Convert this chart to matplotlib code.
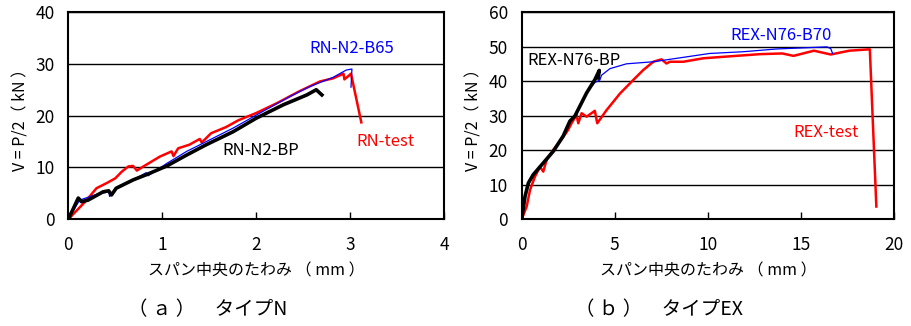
import matplotlib
matplotlib.use("Agg")
import matplotlib.pyplot as plt

plt.rcParams['font.family'] = ['Noto Sans CJK JP', 'DejaVu Sans']

# ---- (a) Type N ----
rn_test_x = [0, 0.195, 0.30, 0.41, 0.50, 0.57, 0.64, 0.69, 0.73, 0.80, 0.975, 1.10, 1.12, 1.17, 1.29, 1.40, 1.42, 1.52, 1.68, 1.81, 2.0, 2.22, 2.46, 2.68, 2.82, 2.93, 2.94, 2.98, 3.01, 3.12]
rn_test_y = [0, 3.7, 6.0, 7.0, 7.9, 9.2, 10.2, 10.3, 9.4, 10.2, 12.1, 13.1, 12.2, 13.7, 14.4, 15.5, 14.8, 16.6, 17.8, 19.1, 20.5, 22.4, 24.7, 26.6, 27.2, 28.1, 27.0, 27.6, 28.1, 18.7]

rn_b65_x = [0, 0.12, 0.30, 0.43, 0.44, 0.51, 0.69, 0.83, 0.85, 1.05, 1.26, 1.47, 1.755, 2.04, 2.36, 2.57, 2.82, 2.96, 3.02, 3.01]
rn_b65_y = [0, 3.7, 4.8, 5.3, 4.4, 6.0, 7.6, 9.0, 8.4, 10.8, 13.1, 15.0, 17.6, 20.5, 23.7, 25.6, 27.4, 28.8, 29.0, 25.5]

rn_bp_x = [0, 0.106, 0.14, 0.21, 0.37, 0.43, 0.46, 0.51, 0.69, 0.83, 1.05, 1.26, 1.47, 1.755, 2.0, 2.29, 2.54, 2.64, 2.70]
rn_bp_y = [0, 4.1, 3.4, 3.7, 5.3, 5.5, 4.7, 6.0, 7.6, 8.6, 10.3, 12.4, 14.4, 16.9, 19.5, 22.1, 24.0, 25.0, 24.0]

# ---- (b) Type EX ----
rex_test_x = [0, 0.27, 0.45, 0.71, 0.98, 1.16, 1.34, 1.70, 2.06, 2.50, 2.68, 2.95, 3.04, 3.22, 3.49, 3.93, 4.06, 4.56, 5.28, 5.99, 6.53, 7.07, 7.51, 7.78, 7.96, 8.68, 9.75, 11.0, 12.8, 14.0, 14.6, 15.7, 16.6, 17.6, 18.7, 19.05]
rex_test_y = [0, 3.7, 8.5, 12.3, 15.2, 13.8, 17.2, 20.1, 22.5, 25.9, 27.8, 30.2, 27.8, 30.7, 29.7, 31.4, 27.8, 31.6, 36.4, 40.3, 43.2, 45.6, 46.3, 45.1, 45.6, 45.6, 46.6, 47.1, 47.8, 48.0, 47.3, 48.8, 47.7, 48.8, 49.2, 3.7]

rex_b70_x = [0, 0.18, 0.36, 0.62, 1.16, 1.70, 2.23, 2.59, 2.86, 3.49, 3.93, 4.2, 4.29, 4.74, 5.63, 7.07, 8.33, 10.1, 11.9, 13.7, 16.4, 16.6, 16.7]
rex_b70_y = [0, 6.6, 10.5, 12.9, 16.3, 19.7, 24.1, 28.4, 29.9, 36.6, 39.6, 40.3, 41.7, 43.6, 45.0, 45.6, 46.6, 48.0, 48.5, 49.3, 49.9, 49.4, 48.0]

rex_bp_x = [0, 0.18, 0.36, 0.62, 1.16, 1.70, 2.23, 2.59, 2.86, 3.49, 3.93, 4.17, 4.11]
rex_bp_y = [0, 6.6, 10.5, 12.9, 16.3, 19.7, 24.1, 28.4, 29.9, 36.6, 40.4, 43.1, 40.9]

RED = '#ff0000'
BLUE = '#0000ff'
BLACK = '#000000'

fig = plt.figure(figsize=(9.12, 3.26), dpi=100)
axA = fig.add_axes([0.0749, 0.3273, 0.4119, 0.6359])
axB = fig.add_axes([0.5720, 0.3273, 0.4083, 0.6359])


def style(ax, xmax, xstep, ymax, ystep):
    ax.set_xlim(0, xmax)
    ax.set_ylim(0, ymax)
    ax.set_xticks(range(0, xmax + 1, xstep))
    ax.set_yticks(range(0, ymax + 1, ystep))
    ax.yaxis.grid(True, color='black', linewidth=1.0)
    ax.set_axisbelow(True)
    ax.tick_params(direction='in', length=5, width=1, labelsize=12.5, pad=12)
    ax.tick_params(axis='y', length=0, pad=10)
    for s in ax.spines.values():
        s.set_linewidth(1.5)
    ax.set_xlabel('スパン中央のたわみ （ mm ）', fontsize=11.5, labelpad=6)
    ax.set_ylabel('V = P/2（ kN ）', fontsize=11.5, labelpad=4)


style(axA, 4, 1, 40, 10)
axA.plot(rn_test_x, rn_test_y, color=RED, lw=1.8)
axA.plot(rn_b65_x, rn_b65_y, color=BLUE, lw=0.9)
axA.plot(rn_bp_x, rn_bp_y, color=BLACK, lw=2.6)
axA.text(2.57, 32.9, 'RN-N2-B65', color=BLUE, fontsize=12, va='center', ha='left')
axA.text(1.64, 13.3, 'RN-N2-BP', color=BLACK, fontsize=12, va='center', ha='left')
axA.text(3.07, 15.1, 'RN-test', color=RED, fontsize=12, va='center', ha='left')

style(axB, 20, 5, 60, 10)
axB.plot(rex_test_x, rex_test_y, color=RED, lw=1.8)
axB.plot(rex_b70_x, rex_b70_y, color=BLUE, lw=0.9)
axB.plot(rex_bp_x, rex_bp_y, color=BLACK, lw=2.6)
axB.text(11.2, 53.1, 'REX-N76-B70', color=BLUE, fontsize=12, va='center', ha='left')
axB.text(0.32, 45.9, 'REX-N76-BP', color=BLACK, fontsize=12, va='center', ha='left')
axB.text(14.6, 25.0, 'REX-test', color=RED, fontsize=12, va='center', ha='left')

fig.text(208 / 912, 1 - 310 / 326, '（ ａ ）　タイプN', fontsize=14, ha='center', va='center')
fig.text(659 / 912, 1 - 310 / 326, '（ ｂ ）　タイプEX', fontsize=14, ha='center', va='center')

fig.savefig('out.png', dpi=100)
